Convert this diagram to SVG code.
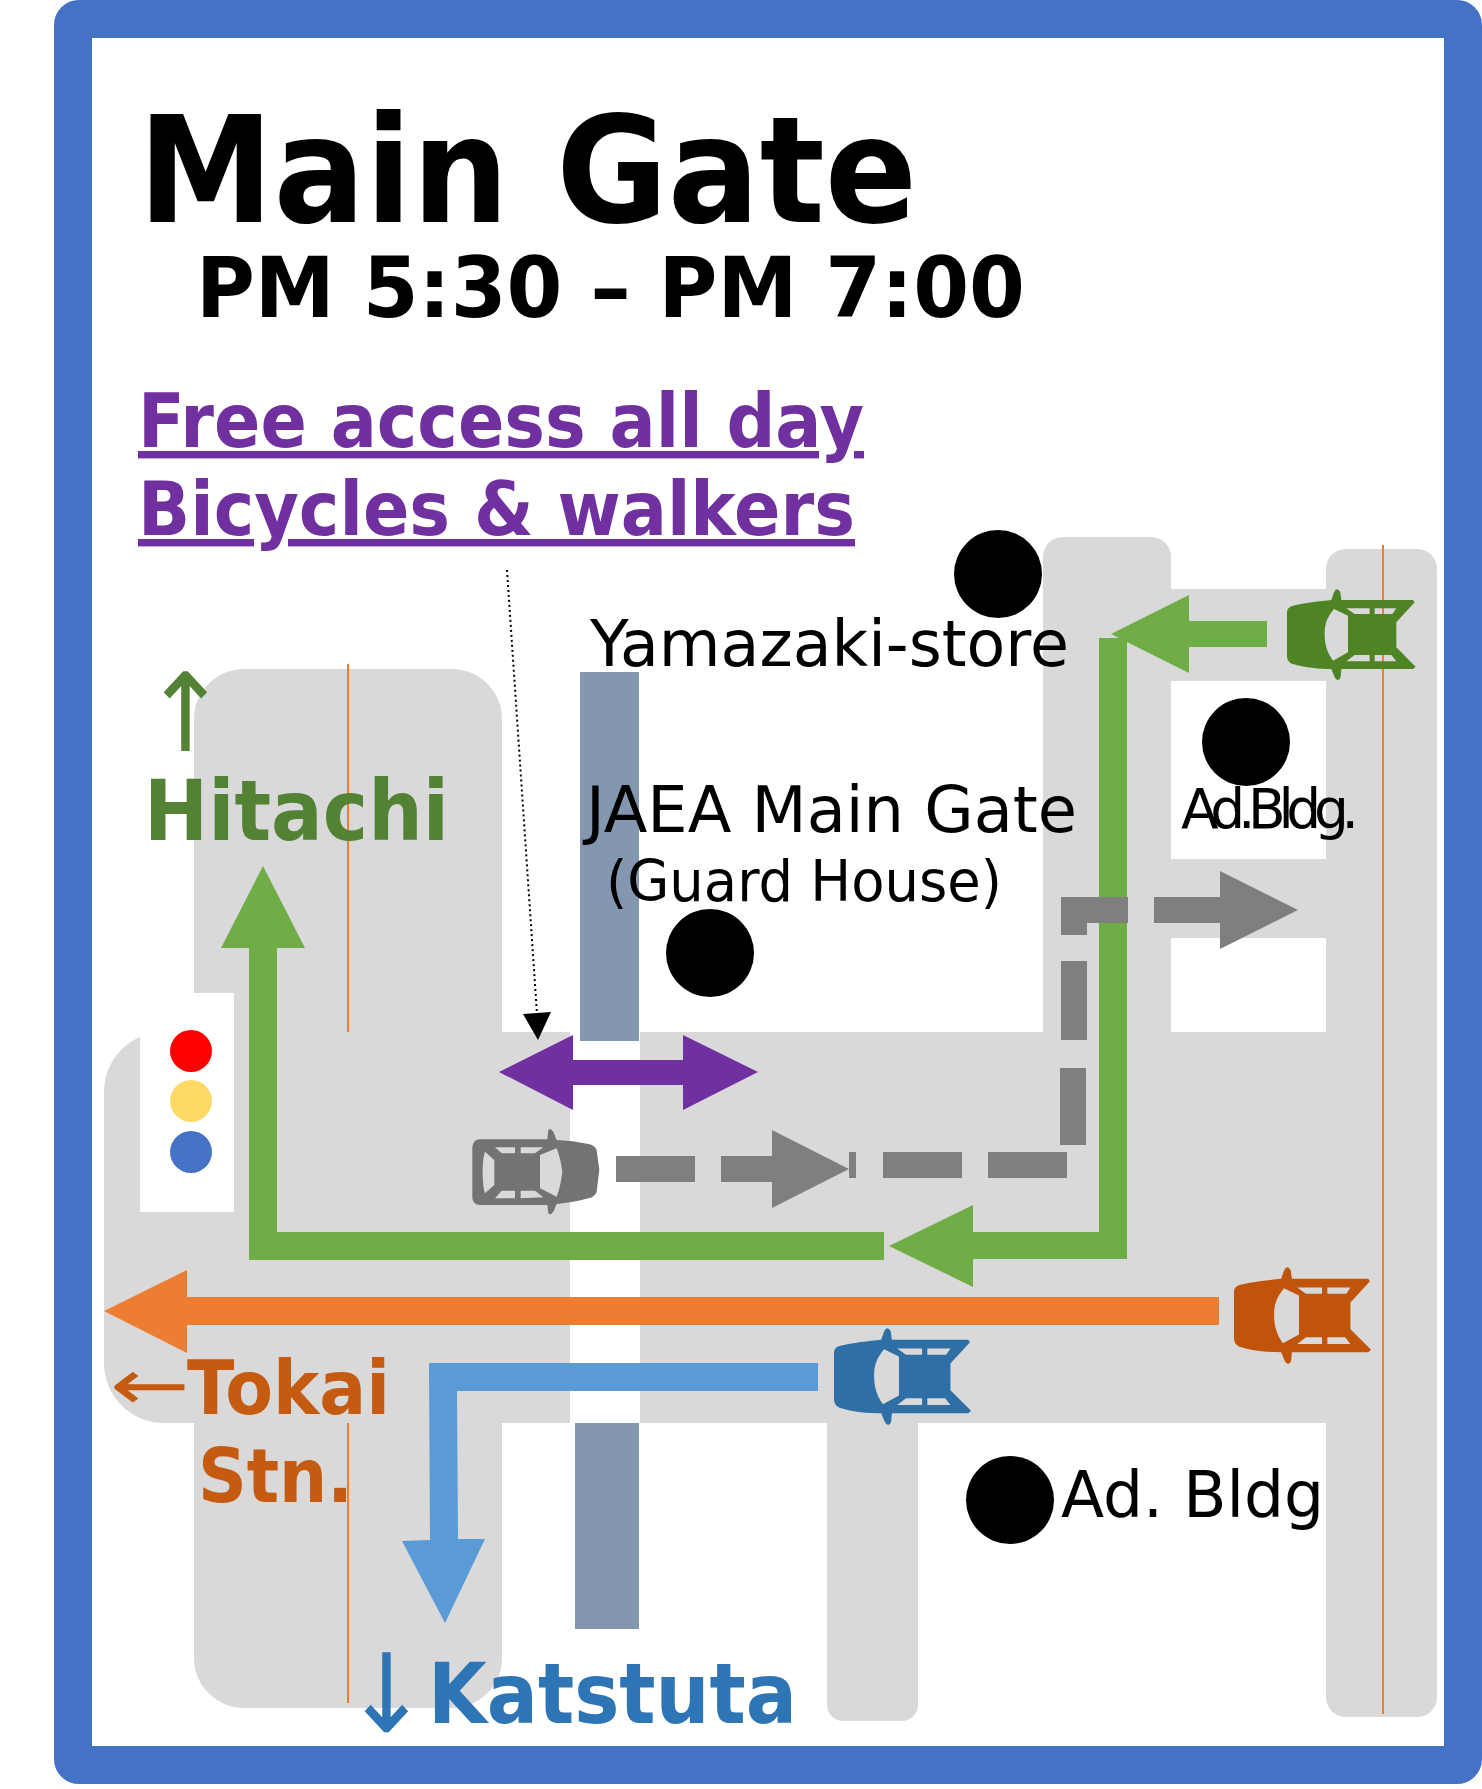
<svg xmlns="http://www.w3.org/2000/svg" width="1482" height="1789" viewBox="0 0 1482 1789">
<style>
text{font-family:"DejaVu Sans","Noto Sans",sans-serif}
.b{font-weight:700}
.road{fill:#D9D9D9}
.wh{fill:#fff}
.pil{fill:#8497B0}
.thin{stroke:#ED7D31;stroke-width:2;fill:none}
.gr{fill:#70AD47}.gy{fill:#7F7F7F}.or{fill:#ED7D31}.bl{fill:#5B9BD5}.pu{fill:#7030A0}
.lbl{font-size:64px;fill:#000}
.u{font-size:74px;fill:#7030A0;font-weight:700;text-decoration:underline;text-decoration-thickness:4px;text-underline-offset:7px;text-decoration-skip-ink:none}
.dot{fill:#000}
</style>
<defs>
<path id="car" fill-rule="evenodd" d="M18 50C6 53 0 60 0 70V200C0 214 8 222 18 225C50 236 100 240 133 240L143 265Q153 282 161 265L163 240H378L386 233L328 175V100L383 40L378 33H163L160 10Q150 -8 141 10L133 33C100 36 50 42 18 50ZM141 60L183 80V190L138 215C120 190 113 165 113 135C113 105 120 85 141 60ZM178 58H248V75H203ZM263 58H328L316 75H263ZM178 217L203 198H248V217ZM263 198H313L328 217H263Z"/>
<path id="carTop" fill-rule="evenodd" d="M97 440Q100 418 120 418H322L325 390Q330 382 340 395L350 420Q400 422 445 432Q465 436 470 450L478 510L470 575Q465 590 445 595Q400 608 350 612L340 635Q330 648 325 640L322 615H120Q100 615 97 595ZM135 455L163 480V555L135 580Q128 560 128 515Q128 475 135 455ZM165 442H225V460H185ZM242 442H310L285 460H242ZM185 572H225V595H165ZM242 572H285L310 592L242 595ZM300 465L350 445Q362 475 367 515Q362 560 350 590L300 565Z"/>
</defs>
<g id="frame"><rect x="73" y="19" width="1390" height="1746" rx="6" fill="#fff" stroke="#4472C4" stroke-width="38"/></g>
<g id="roads">
<rect class="road" x="194" y="669" width="308" height="1039" rx="50"/>
<rect class="road" x="104" y="1032" width="1333" height="391" rx="60"/>
<rect class="road" x="1043" y="537" width="128" height="520" rx="20"/>
<rect class="road" x="1326" y="549" width="111" height="1168" rx="20"/>
<rect class="road" x="1100" y="589" width="260" height="92"/>
<rect class="road" x="1100" y="859" width="260" height="79"/>
<rect class="road" x="827" y="1400" width="91" height="321" rx="16"/>
<rect class="wh" x="1171" y="681" width="155" height="178"/>
<rect class="wh" x="1171" y="938" width="155" height="94"/>
<rect class="wh" x="570" y="1032" width="70" height="391"/>
<rect class="wh" x="140" y="993" width="94" height="219"/>
<rect class="pil" x="580" y="672" width="59" height="369"/>
<rect class="pil" x="575" y="1423" width="64" height="206"/>
<path class="thin" d="M348 664V1032M348 1423V1703M1383 545V1714"/>
</g>
<g id="connectors">
<path class="gr" d="M1111 634L1189 595V621H1267V647H1189V673Z"/>
<path class="gr" d="M1099 638H1127V1259H973V1287L889 1246L973 1205V1232H1099Z"/>
<path class="gr" d="M884 1232V1260H249V948H221L263 866L305 948H277V1232Z"/>
<path class="or" d="M104 1311L187 1270V1297H1219V1325H187V1353Z"/>
<path class="bl" d="M818 1363V1391H457L458 1539H485L445 1623L402 1541L430 1540L429 1363Z"/>
<path class="pu" d="M499 1072L573 1035V1060H683V1035L758 1072L683 1110V1085H573V1110Z"/>
<g class="gy">
<rect x="616" y="1156" width="79" height="26"/>
<path d="M721 1156H772V1130L849 1169L772 1208V1182H721Z"/>
<rect x="849" y="1152" width="7" height="26"/>
<rect x="883" y="1152" width="79" height="26"/>
<rect x="988" y="1152" width="79" height="26"/>
<rect x="1060" y="1068" width="26" height="77"/>
<rect x="1061" y="961" width="26" height="79"/>
<path d="M1061 897H1128V923H1087V935H1061Z"/>
<path d="M1154 897H1220V871L1298 910L1220 949V923H1154Z"/>
</g>
<path d="M507 570L537 1014" stroke="#000" stroke-width="2" stroke-dasharray="2 3" fill="none"/>
<path d="M523 1014L551 1012L538 1040Z" fill="#000"/>
</g>
<g id="car-green"><use href="#car" transform="translate(1287 589) scale(.3333)" fill="#4E8424"/></g>
<g id="car-orange"><use href="#car" transform="translate(1234 1267) scale(.355)" fill="#BF540A"/></g>
<g id="car-blue"><use href="#car" transform="translate(834 1328) scale(.355)" fill="#2E6FA6"/></g>
<g id="car-gray"><use href="#carTop" transform="translate(440 1000) scale(.3333)" fill="#737373"/></g>
<g id="lights">
<circle cx="191" cy="1051" r="21" fill="#FF0000"/>
<circle cx="191" cy="1101" r="21" fill="#FFD966"/>
<circle cx="191" cy="1152" r="21" fill="#4472C4"/>
</g>
<g id="store"><circle class="dot" cx="998" cy="574" r="44"/><text class="lbl" x="590" y="666" textLength="479" lengthAdjust="spacingAndGlyphs">Yamazaki-store</text></g>
<g id="gate"><circle class="dot" cx="710" cy="953" r="44"/><text class="lbl" x="586" y="832" textLength="491" lengthAdjust="spacingAndGlyphs">JAEA Main Gate</text><text x="606" y="901" font-size="57" textLength="396" lengthAdjust="spacingAndGlyphs">(Guard House)</text></g>
<g id="adbldg1"><circle class="dot" cx="1246" cy="742" r="44"/><text x="1181" y="828" font-size="55" textLength="178" lengthAdjust="spacing">Ad.Bldg.</text></g>
<g id="adbldg2"><circle class="dot" cx="1010" cy="1500" r="44"/><text class="lbl" x="1061" y="1517" textLength="263" lengthAdjust="spacingAndGlyphs">Ad. Bldg</text></g>
<g id="title">
<text class="b" x="138" y="222" font-size="148" textLength="779" lengthAdjust="spacingAndGlyphs">Main Gate</text>
<text class="b" x="196" y="317" font-size="83" textLength="829" lengthAdjust="spacingAndGlyphs">PM 5:30 – PM 7:00</text>
</g>
<g id="free">
<text class="u" x="138" y="447" textLength="726" lengthAdjust="spacingAndGlyphs">Free access all day</text>
<text class="u" x="138" y="535" textLength="717" lengthAdjust="spacingAndGlyphs">Bicycles &amp; walkers</text>
</g>
<g id="hitachi"><text x="143" y="751" font-size="109" fill="#548235" textLength="85" lengthAdjust="spacingAndGlyphs">↑</text><text class="b" x="144" y="840" font-size="83" fill="#548235" textLength="305" lengthAdjust="spacingAndGlyphs">Hitachi</text></g>
<g id="tokai"><text x="110" y="1410" font-size="72" fill="#C55A11" textLength="80" lengthAdjust="spacingAndGlyphs">←</text><text class="b" x="187" y="1414" font-size="74" fill="#C55A11" textLength="203" lengthAdjust="spacingAndGlyphs">Tokai</text><text class="b" x="198" y="1502" font-size="74" fill="#C55A11" textLength="155" lengthAdjust="spacingAndGlyphs">Stn.</text></g>
<g id="katstuta"><text x="344" y="1732" font-size="109" fill="#2E75B6" textLength="85" lengthAdjust="spacingAndGlyphs">↓</text><text class="b" x="428" y="1723" font-size="83" fill="#2E75B6" textLength="369" lengthAdjust="spacingAndGlyphs">Katstuta</text></g>
</svg>
